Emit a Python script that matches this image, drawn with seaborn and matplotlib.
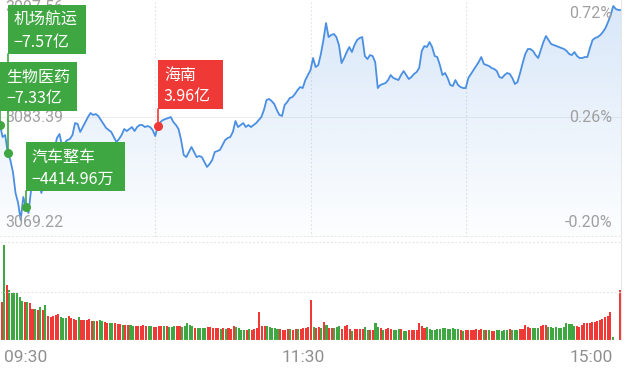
import numpy as np
import pandas as pd
import matplotlib
matplotlib.use("Agg")
import matplotlib.pyplot as plt
import seaborn as sns
from matplotlib.colors import to_rgb
from matplotlib.lines import Line2D
from matplotlib.patches import Rectangle

# index price, one value per trading minute (09:30 .. 11:30, 13:01 .. 15:00)
price = [
    3082.37, 3080.84, 3081.09, 3078.79, 3077.90, 3076.37, 3073.69, 3072.41, 3070.24, 3073.18,
    3071.90, 3071.13, 3074.07, 3075.09, 3075.22, 3075.09, 3073.69, 3075.09, 3075.86, 3077.26,
    3078.16, 3079.18, 3080.71, 3081.22, 3079.69, 3080.07, 3080.45, 3080.58, 3081.09, 3082.62,
    3082.50, 3081.48, 3082.11, 3082.75, 3083.39, 3083.90, 3083.65, 3083.77, 3083.52, 3083.01,
    3082.50, 3081.99, 3081.73, 3081.48, 3080.84, 3080.20, 3080.58, 3081.09, 3081.86, 3081.60,
    3081.86, 3082.11, 3081.60, 3082.11, 3082.37, 3082.37, 3082.11, 3082.24, 3082.11, 3081.73,
    3080.96, 3082.24, 3082.75, 3083.01, 3083.13, 3083.26, 3083.39, 3082.75, 3082.37, 3081.86,
    3080.45, 3078.54, 3078.28, 3078.92, 3079.56, 3078.92, 3078.28, 3078.41, 3078.28, 3077.65,
    3077.01, 3077.39, 3077.90, 3078.92, 3079.05, 3079.18, 3079.82, 3080.45, 3080.71, 3080.84,
    3081.48, 3082.88, 3082.11, 3082.37, 3082.62, 3082.11, 3082.37, 3082.11, 3082.37, 3082.62,
    3083.01, 3083.39, 3084.28, 3085.56, 3085.69, 3085.43, 3085.05, 3084.28, 3083.65, 3083.52,
    3084.92, 3085.30, 3085.82, 3085.94, 3086.33, 3086.84, 3087.22, 3087.09, 3088.11, 3088.75,
    3089.39, 3090.92, 3089.77, 3090.03, 3091.43, 3093.22, 3095.39, 3093.60, 3093.86, 3093.99,
    3093.60, 3092.58, 3090.28, 3090.92, 3091.69, 3092.33, 3091.69, 3092.58, 3093.22, 3093.48,
    3093.60, 3091.18, 3090.79, 3091.30, 3091.18, 3090.41, 3087.09, 3087.48, 3087.60, 3087.73,
    3088.11, 3088.75, 3088.37, 3088.24, 3088.11, 3088.75, 3089.26, 3088.75, 3088.24, 3088.50,
    3088.88, 3089.13, 3089.65, 3091.82, 3092.45, 3092.33, 3092.96, 3092.33, 3091.18, 3091.05,
    3090.03, 3088.75, 3089.01, 3088.37, 3087.48, 3087.35, 3088.11, 3087.48, 3087.22, 3087.09,
    3087.09, 3088.37, 3088.88, 3089.39, 3089.90, 3090.41, 3091.05, 3090.16, 3090.03, 3089.90,
    3089.65, 3089.52, 3089.26, 3088.50, 3088.37, 3088.75, 3089.01, 3088.88, 3088.37, 3087.60,
    3087.86, 3089.01, 3090.28, 3091.43, 3092.07, 3092.07, 3091.82, 3091.30, 3090.92, 3091.94,
    3092.96, 3093.73, 3093.22, 3092.71, 3092.58, 3092.45, 3092.33, 3092.20, 3092.07, 3091.82,
    3091.43, 3091.30, 3091.69, 3091.18, 3090.92, 3090.92, 3091.05, 3091.05, 3092.20, 3093.22,
    3093.48, 3093.60, 3093.86, 3094.24, 3094.75, 3095.52, 3096.41, 3097.56, 3097.18, 3097.05,
    3097.05,
]

# traded volume per minute (relative units)
volume = [
    38, 95, 55, 50, 47, 47, 47, 43, 39, 38,
    38, 37, 31, 31, 30, 33, 30, 35, 24, 23,
    24, 25, 26, 23, 22, 22, 24, 22, 21, 20,
    23, 20, 20, 20, 21, 19, 19, 19, 20, 19,
    18, 17, 17, 17, 17, 16, 16, 15, 15, 15,
    15, 14, 14, 14, 14, 15, 14, 14, 14, 13,
    13, 14, 14, 14, 14, 13, 13, 14, 14, 14,
    13, 14, 17, 15, 14, 12, 12, 12, 12, 12,
    13, 13, 12, 12, 12, 11, 12, 11, 12, 11,
    14, 13, 12, 10, 10, 10, 11, 10, 11, 12,
    28, 14, 14, 14, 13, 12, 12, 11, 11, 10,
    10, 11, 11, 10, 11, 11, 11, 12, 12, 13,
    40, 13, 12, 13, 12, 18, 15, 12, 12, 12,
    13, 14, 11, 14, 15, 11, 9, 11, 11, 11,
    11, 13, 10, 10, 10, 17, 13, 12, 10, 11,
    12, 11, 10, 10, 11, 11, 9, 9, 10, 10,
    10, 10, 17, 14, 12, 13, 11, 10, 10, 11,
    11, 12, 12, 11, 11, 12, 11, 11, 10, 9,
    10, 10, 10, 10, 11, 10, 11, 10, 10, 10,
    9, 9, 10, 10, 9, 10, 10, 11, 10, 10,
    10, 11, 11, 15, 13, 12, 12, 12, 12, 14,
    15, 15, 13, 13, 12, 13, 12, 12, 13, 17,
    16, 16, 14, 14, 13, 15, 17, 17, 17, 18,
    18, 19, 20, 21, 23, 24, 28, 3, 0, 0,
    50,
]

# R = up minute (red), G = down minute (green)
direction = list((
    "RGRGGGGGGR GRRGRGRGRR RRRGGGRRRR GRRRRRGRGG RRGGRRRGRR "
    "GGRRRRRGGR RRRGRGGGRR GGGGGRGGGG RRRRRGRGRR RGGGGRGRRR "
    "RRRGGGGGRR RRGRRGRRRR RGRRGRGRRG GGRRRRGRRR RGGRRGGRGR "
    "RRGGGRGGRR RRRRRGGGGG GGGGGGGGRG RRRRRRRGRG RRGGGGGRGG "
    "GRRRRRGGGR RRGGGGGGGG GGGRRRRRRR RRRRRRRGGG R"
).replace(" ", ""))

time_labels = ["09:30", "11:30", "15:00"]
price_ticks = ["3097.56", "3083.39", "3069.22"]
pct_ticks = ["0.72%", "0.26%", "-0.20%"]

sector_names = ["机场航运", "生物医药", "汽车整车", "海南"]
sector_flows = [-7.57, -7.33, -0.441496, 3.96]   # 亿
sector_minutes = [3, 0, 10, 61]

sns.set_style("white")
plt.rcParams["font.family"] = ["Roboto", "DejaVu Sans"]

df = pd.DataFrame({"minute": np.arange(len(price)), "price": price,
                   "volume": volume, "dir": direction})

W, H = 627, 373
fig = plt.figure(figsize=(W / 100, H / 100), dpi=100)
ax = fig.add_axes([0, 1 - 237 / H, 621 / W, 237 / H])
axv = fig.add_axes([0, 1 - 340 / H, 621 / W, 99 / H])

BLUE = "#4a8fe2"
RED = "#ef3936"
GREEN = "#3fa742"
GRID = "#e2e2e2"
ylo, yhi = 3068.07, 3098.33

# price line with gradient fill
sns.lineplot(data=df, x="minute", y="price", ax=ax, color=BLUE, linewidth=1.3, zorder=4)
poly = ax.fill_between(df["minute"], df["price"], ylo, color="none", lw=0)
grad = np.zeros((256, 1, 4))
grad[..., :3] = to_rgb(BLUE)
grad[..., 3] = np.linspace(0.22, 0.01, 256)[:, None]
img = ax.imshow(grad, aspect="auto", extent=[0, 240, ylo, yhi], origin="upper", zorder=1)
img.set_clip_path(poly.get_paths()[0], transform=ax.transData)
ax.set_xlim(0, 240)
ax.set_ylim(ylo, yhi)
ax.axis("off")
for m in (60, 120, 180):
    ax.axvline(m, color=GRID, lw=0.8, ls=(0, (1.5, 2)), zorder=0)
ax.axhline(float(price_ticks[1]), color="#eeeeee", lw=0.8, zorder=0)
ax.plot([0, 1], [0.004, 0.004], transform=ax.transAxes, color=GRID, lw=0.8, ls=(0, (1.5, 2)))

# volume bars
sns.barplot(data=df, x="minute", y="volume", hue="dir", palette={"R": RED, "G": GREEN},
            native_scale=True, dodge=False, width=0.8, errorbar=None, legend=False,
            saturation=1, linewidth=0, antialiased=False, ax=axv)
axv.set_xlim(-0.6, 240.2)
axv.set_ylim(0, 99)
axv.axis("off")
axv.axhline(98.5, color=GRID, lw=0.8, ls=(0, (1.5, 2)))
axv.axhline(48, color=GRID, lw=0.8, ls=(0, (1.5, 2)))
axv.axhline(0, color="#ececec", lw=0.8)

fig.add_artist(Line2D([621 / W] * 2, [1, 1 - 340 / H], transform=fig.transFigure,
                      color="#e6e6e6", lw=0.8))

# axis labels
tick_kw = dict(fontsize=11.5, color="#a0a0a0", zorder=0.5)
for s, y in zip(price_ticks, [7, 117, 223]):
    fig.text(5 / W, 1 - y / H, s, ha="left", va="center", **tick_kw)
for s, y in zip(pct_ticks, [13, 117, 223]):
    fig.text(612 / W, 1 - y / H, s, ha="right", va="center", **tick_kw)
for s, x, ha in zip(time_labels, [4, 303, 613], ["left", "center", "right"]):
    fig.text(x / W, 1 - 357 / H, s, ha=ha, va="center", fontsize=12.5, color="#8f8f8f")

# sector money-flow tags
box_top = [5, 62, 142, 60]
box_w = [78, 77, 99, 65]
box_h = 49
cjk = ["Noto Sans CJK SC", "DejaVu Sans"]
for name, flow, m, top, w in zip(sector_names, sector_flows, sector_minutes, box_top, box_w):
    color = RED if flow > 0 else GREEN
    if abs(flow) < 1:
        amount = f"{flow * 10000:.2f}万"
    else:
        amount = f"{flow:.2f}亿"
    amount = amount.replace("-", "−")
    dx, dy = ax.transData.transform((m, df["price"][m]))
    mx, my = dx, H - dy
    fig.add_artist(Line2D([mx / W] * 2, [1 - (top + box_h) / H, 1 - my / H],
                          transform=fig.transFigure, color=color, lw=1.2, zorder=2))
    fig.add_artist(Line2D([mx / W], [1 - my / H], marker="o", ms=5.5, color=color,
                          transform=fig.transFigure, zorder=2))
    fig.add_artist(Rectangle((mx / W, 1 - (top + box_h) / H), w / W, box_h / H,
                             transform=fig.transFigure, fc=color, ec="none", zorder=2))
    fig.text((mx + 6) / W, 1 - (top + 15) / H, name, ha="left", va="center",
             fontsize=11.5, color="white", family=cjk, zorder=3)
    fig.text((mx + 6) / W, 1 - (top + 37) / H, amount, ha="left", va="center",
             fontsize=11.5, color="white", family=cjk, zorder=3)

fig.savefig("out.png", dpi=100)
